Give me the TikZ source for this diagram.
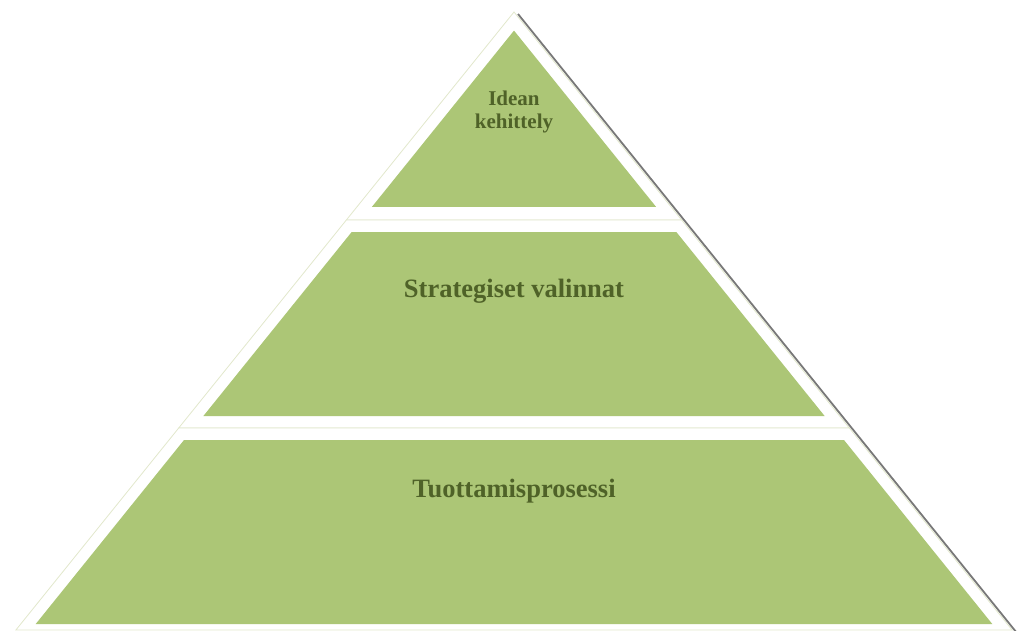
\documentclass[tikz,border=0pt]{standalone}
\usepackage{fontspec}
\setmainfont{Liberation Serif}
\usetikzlibrary{calc}
\definecolor{levelfill}{RGB}{172,198,118}
\definecolor{leveledge}{RGB}{226,232,204}
\definecolor{leveltext}{RGB}{79,98,40}
\definecolor{shadowline}{RGB}{120,120,120}

\begin{document}
\begin{tikzpicture}[x=1pt,y=-1pt]

\useasboundingbox (0,0) rectangle (1017,631);

% Sides drop 1 unit for every 0.806 units across; apex at (514,12).
\def\slope{0.806}

\tikzset{
  band edge/.style={
    fill=white,
    draw=leveledge,
    line width=0.8pt
  },
  level label/.style={
    text=leveltext,
    inner sep=0pt,
    align=center
  }
}

% Each band is specified as:
% \band{top}{bottom}{inner top}{inner bottom}
\newcommand{\band}[4]{%
  \pgfmathsetmacro{\outtop}{\slope*(#1-12)}%
  \pgfmathsetmacro{\outbot}{\slope*(#2-12)}%
  \pgfmathsetmacro{\intop}{max(\slope*(#3-12)-15,0)}%
  \pgfmathsetmacro{\inbot}{\slope*(#4-12)-15}%
  \filldraw[band edge] (514-\outtop,#1) -- (514+\outtop,#1)
    -- (514+\outbot,#2) -- (514-\outbot,#2) -- cycle;
  \fill[levelfill] (514-\intop,#3) -- (514+\intop,#3)
    -- (514+\inbot,#4) -- (514-\inbot,#4) -- cycle;
}

% Bands, top to bottom.
\band{12}{220}{31}{207}
\band{220}{428}{232}{416}
\band{428}{630}{440}{624}

% Shadow along the right side.
\draw[shadowline, line width=1.8pt] (518,14) -- ($(518,14)+(0.806*620,620)$);

% Labels.
\node[level label, font=\bfseries\fontsize{21}{22.5}\selectfont]
  (idea) at (514,112) {Idean\\kehittely};
\node[level label, anchor=base, font=\bfseries\fontsize{26.5}{30}\selectfont]
  (strategy) at (514,297) {Strategiset valinnat};
\node[level label, anchor=base, font=\bfseries\fontsize{26.5}{30}\selectfont]
  (production) at (514,497) {Tuottamisprosessi};

\end{tikzpicture}
\end{document}
